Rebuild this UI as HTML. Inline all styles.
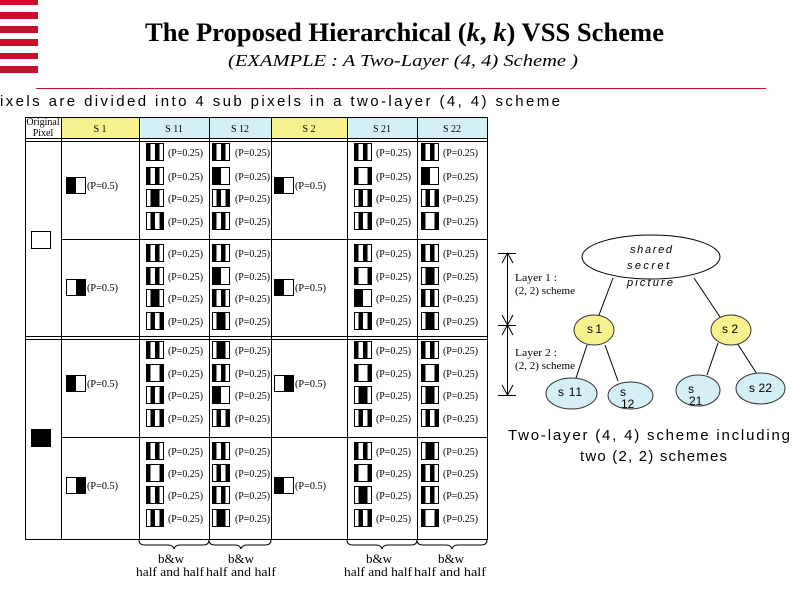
<!DOCTYPE html>
<html><head><meta charset="utf-8"><style>
html,body{margin:0;padding:0;background:#fff;}
svg{display:block;}
.p{font-family:"Liberation Serif",serif;font-size:10px;}
.h{font-family:"Liberation Serif",serif;font-size:10px;}
.s{font-family:"Liberation Sans",sans-serif;}
</style></head><body>
<svg width="800" height="600" viewBox="0 0 800 600" xmlns="http://www.w3.org/2000/svg">
<defs>
<g id="a"><rect x="0.5" y="0.5" width="17" height="17" fill="#fff" stroke="#000"/><rect x="0" y="0" width="4.5" height="18"/><rect x="9" y="0" width="4.5" height="18"/></g>
<g id="b"><rect x="0.5" y="0.5" width="17" height="17" fill="#fff" stroke="#000"/><rect x="0" y="0" width="4.5" height="18"/><rect x="13.5" y="0" width="4.5" height="18"/></g>
<g id="c"><rect x="0.5" y="0.5" width="17" height="17" fill="#fff" stroke="#000"/><rect x="0" y="0" width="9" height="18"/></g>
<g id="d"><rect x="0.5" y="0.5" width="17" height="17" fill="#fff" stroke="#000"/><rect x="4.5" y="0" width="9" height="18"/></g>
<g id="e"><rect x="0.5" y="0.5" width="17" height="17" fill="#fff" stroke="#000"/><rect x="4.5" y="0" width="4.5" height="18"/><rect x="13.5" y="0" width="4.5" height="18"/></g>
<g id="L"><rect x="0.5" y="0.5" width="19" height="16" fill="#fff" stroke="#000"/><rect x="0" y="0" width="10" height="17"/></g>
<g id="R"><rect x="0.5" y="0.5" width="19" height="16" fill="#fff" stroke="#000"/><rect x="10" y="0" width="10" height="17"/></g>
</defs>

<!-- red stripes -->
<g fill="#c8102e">
<rect x="0" y="0" width="38" height="5"/>
<rect x="0" y="12" width="38" height="7"/>
<rect x="0" y="26" width="38" height="7"/>
<rect x="0" y="39" width="38" height="7"/>
<rect x="0" y="53" width="38" height="6"/>
<rect x="0" y="66" width="38" height="7"/>
</g>

<!-- title -->
<text x="145" y="41" font-family="Liberation Serif, serif" font-weight="bold" font-size="26.5" textLength="519" lengthAdjust="spacingAndGlyphs">The Proposed Hierarchical (<tspan font-style="italic">k</tspan>, <tspan font-style="italic">k</tspan>) VSS Scheme</text>
<text x="228" y="66" font-family="Liberation Serif, serif" font-style="italic" font-size="17" textLength="350" lengthAdjust="spacingAndGlyphs">(EXAMPLE : A Two-Layer (4, 4) Scheme )</text>
<rect x="36" y="88" width="730" height="1" fill="#c8102e"/>
<text x="0" y="106" class="s" font-size="15" textLength="560" lengthAdjust="spacing">ixels are divided into 4 sub pixels in a two-layer (4, 4) scheme</text>

<!-- table header backgrounds -->
<rect x="61" y="117" width="78" height="21" fill="#f8f28e"/>
<rect x="139" y="117" width="132" height="21" fill="#d4eff5"/>
<rect x="271" y="117" width="76" height="21" fill="#f8f28e"/>
<rect x="347" y="117" width="140" height="21" fill="#d4eff5"/>

<!-- table lines -->
<g stroke="#000" stroke-width="1" shape-rendering="crispEdges" fill="none">
<line x1="25" y1="117.5" x2="488" y2="117.5"/>
<line x1="25" y1="138.5" x2="488" y2="138.5"/>
<line x1="25" y1="141.5" x2="488" y2="141.5"/>
<line x1="61" y1="239.5" x2="488" y2="239.5"/>
<line x1="25" y1="336.5" x2="488" y2="336.5"/>
<line x1="25" y1="339.5" x2="488" y2="339.5"/>
<line x1="61" y1="437.5" x2="488" y2="437.5"/>
<line x1="25" y1="539.5" x2="488" y2="539.5"/>
<line x1="25.5" y1="117" x2="25.5" y2="540"/>
<line x1="61.5" y1="117" x2="61.5" y2="540"/>
<line x1="139.5" y1="117" x2="139.5" y2="540"/>
<line x1="209.5" y1="117" x2="209.5" y2="540"/>
<line x1="271.5" y1="117" x2="271.5" y2="540"/>
<line x1="347.5" y1="117" x2="347.5" y2="540"/>
<line x1="417.5" y1="117" x2="417.5" y2="540"/>
<line x1="487.5" y1="117" x2="487.5" y2="540"/>
</g>

<!-- header text -->
<text x="43" y="125" class="h" font-size="8.5" text-anchor="middle">Original</text>
<text x="43" y="136" class="h" font-size="8.5" text-anchor="middle">Pixel</text>
<text x="100" y="132" class="h" text-anchor="middle">S 1</text>
<text x="174" y="132" class="h" text-anchor="middle">S 11</text>
<text x="240" y="132" class="h" text-anchor="middle">S 12</text>
<text x="309" y="132" class="h" text-anchor="middle">S 2</text>
<text x="382" y="132" class="h" text-anchor="middle">S 21</text>
<text x="452" y="132" class="h" text-anchor="middle">S 22</text>

<!-- original pixels -->
<rect x="31.5" y="231.5" width="19" height="17" fill="#fff" stroke="#000"/>
<rect x="31" y="429" width="20" height="18" fill="#000"/>

<!-- S1 / S2 -->
<use href="#L" x="66" y="177"/><text x="87" y="189" class="p" textLength="31" lengthAdjust="spacingAndGlyphs">(P=0.5)</text>
<use href="#R" x="66" y="279"/><text x="87" y="291" class="p" textLength="31" lengthAdjust="spacingAndGlyphs">(P=0.5)</text>
<use href="#L" x="66" y="375"/><text x="87" y="387" class="p" textLength="31" lengthAdjust="spacingAndGlyphs">(P=0.5)</text>
<use href="#R" x="66" y="477"/><text x="87" y="489" class="p" textLength="31" lengthAdjust="spacingAndGlyphs">(P=0.5)</text>
<use href="#L" x="274" y="177"/><text x="295" y="189" class="p" textLength="31" lengthAdjust="spacingAndGlyphs">(P=0.5)</text>
<use href="#L" x="274" y="279"/><text x="295" y="291" class="p" textLength="31" lengthAdjust="spacingAndGlyphs">(P=0.5)</text>
<use href="#R" x="274" y="375"/><text x="295" y="387" class="p" textLength="31" lengthAdjust="spacingAndGlyphs">(P=0.5)</text>
<use href="#L" x="274" y="477"/><text x="295" y="489" class="p" textLength="31" lengthAdjust="spacingAndGlyphs">(P=0.5)</text>

<!-- S11 -->
<use href="#a" x="146" y="143"/><text x="168" y="156" class="p" textLength="35" lengthAdjust="spacingAndGlyphs">(P=0.25)</text>
<use href="#a" x="146" y="167"/><text x="168" y="180" class="p" textLength="35" lengthAdjust="spacingAndGlyphs">(P=0.25)</text>
<use href="#d" x="146" y="189"/><text x="168" y="202" class="p" textLength="35" lengthAdjust="spacingAndGlyphs">(P=0.25)</text>
<use href="#e" x="146" y="212"/><text x="168" y="225" class="p" textLength="35" lengthAdjust="spacingAndGlyphs">(P=0.25)</text>
<use href="#a" x="146" y="244"/><text x="168" y="257" class="p" textLength="35" lengthAdjust="spacingAndGlyphs">(P=0.25)</text>
<use href="#a" x="146" y="267"/><text x="168" y="280" class="p" textLength="35" lengthAdjust="spacingAndGlyphs">(P=0.25)</text>
<use href="#d" x="146" y="289"/><text x="168" y="302" class="p" textLength="35" lengthAdjust="spacingAndGlyphs">(P=0.25)</text>
<use href="#e" x="146" y="312"/><text x="168" y="325" class="p" textLength="35" lengthAdjust="spacingAndGlyphs">(P=0.25)</text>
<use href="#a" x="146" y="341"/><text x="168" y="354" class="p" textLength="35" lengthAdjust="spacingAndGlyphs">(P=0.25)</text>
<use href="#b" x="146" y="364"/><text x="168" y="377" class="p" textLength="35" lengthAdjust="spacingAndGlyphs">(P=0.25)</text>
<use href="#e" x="146" y="386"/><text x="168" y="399" class="p" textLength="35" lengthAdjust="spacingAndGlyphs">(P=0.25)</text>
<use href="#e" x="146" y="409"/><text x="168" y="422" class="p" textLength="35" lengthAdjust="spacingAndGlyphs">(P=0.25)</text>
<use href="#a" x="146" y="442"/><text x="168" y="455" class="p" textLength="35" lengthAdjust="spacingAndGlyphs">(P=0.25)</text>
<use href="#b" x="146" y="464"/><text x="168" y="477" class="p" textLength="35" lengthAdjust="spacingAndGlyphs">(P=0.25)</text>
<use href="#a" x="146" y="486"/><text x="168" y="499" class="p" textLength="35" lengthAdjust="spacingAndGlyphs">(P=0.25)</text>
<use href="#e" x="146" y="509"/><text x="168" y="522" class="p" textLength="35" lengthAdjust="spacingAndGlyphs">(P=0.25)</text>

<!-- S12 -->
<use href="#a" x="212" y="143"/><text x="235" y="156" class="p" textLength="35" lengthAdjust="spacingAndGlyphs">(P=0.25)</text>
<use href="#c" x="212" y="167"/><text x="235" y="180" class="p" textLength="35" lengthAdjust="spacingAndGlyphs">(P=0.25)</text>
<use href="#e" x="212" y="189"/><text x="235" y="202" class="p" textLength="35" lengthAdjust="spacingAndGlyphs">(P=0.25)</text>
<use href="#a" x="212" y="212"/><text x="235" y="225" class="p" textLength="35" lengthAdjust="spacingAndGlyphs">(P=0.25)</text>
<use href="#a" x="212" y="244"/><text x="235" y="257" class="p" textLength="35" lengthAdjust="spacingAndGlyphs">(P=0.25)</text>
<use href="#c" x="212" y="267"/><text x="235" y="280" class="p" textLength="35" lengthAdjust="spacingAndGlyphs">(P=0.25)</text>
<use href="#a" x="212" y="289"/><text x="235" y="302" class="p" textLength="35" lengthAdjust="spacingAndGlyphs">(P=0.25)</text>
<use href="#d" x="212" y="312"/><text x="235" y="325" class="p" textLength="35" lengthAdjust="spacingAndGlyphs">(P=0.25)</text>
<use href="#d" x="212" y="341"/><text x="235" y="354" class="p" textLength="35" lengthAdjust="spacingAndGlyphs">(P=0.25)</text>
<use href="#a" x="212" y="364"/><text x="235" y="377" class="p" textLength="35" lengthAdjust="spacingAndGlyphs">(P=0.25)</text>
<use href="#c" x="212" y="386"/><text x="235" y="399" class="p" textLength="35" lengthAdjust="spacingAndGlyphs">(P=0.25)</text>
<use href="#e" x="212" y="409"/><text x="235" y="422" class="p" textLength="35" lengthAdjust="spacingAndGlyphs">(P=0.25)</text>
<use href="#a" x="212" y="442"/><text x="235" y="455" class="p" textLength="35" lengthAdjust="spacingAndGlyphs">(P=0.25)</text>
<use href="#e" x="212" y="464"/><text x="235" y="477" class="p" textLength="35" lengthAdjust="spacingAndGlyphs">(P=0.25)</text>
<use href="#a" x="212" y="486"/><text x="235" y="499" class="p" textLength="35" lengthAdjust="spacingAndGlyphs">(P=0.25)</text>
<use href="#d" x="212" y="509"/><text x="235" y="522" class="p" textLength="35" lengthAdjust="spacingAndGlyphs">(P=0.25)</text>

<!-- S21 -->
<use href="#a" x="354" y="143"/><text x="376" y="156" class="p" textLength="35" lengthAdjust="spacingAndGlyphs">(P=0.25)</text>
<use href="#b" x="354" y="167"/><text x="376" y="180" class="p" textLength="35" lengthAdjust="spacingAndGlyphs">(P=0.25)</text>
<use href="#e" x="354" y="189"/><text x="376" y="202" class="p" textLength="35" lengthAdjust="spacingAndGlyphs">(P=0.25)</text>
<use href="#e" x="354" y="212"/><text x="376" y="225" class="p" textLength="35" lengthAdjust="spacingAndGlyphs">(P=0.25)</text>
<use href="#a" x="354" y="244"/><text x="376" y="257" class="p" textLength="35" lengthAdjust="spacingAndGlyphs">(P=0.25)</text>
<use href="#b" x="354" y="267"/><text x="376" y="280" class="p" textLength="35" lengthAdjust="spacingAndGlyphs">(P=0.25)</text>
<use href="#c" x="354" y="289"/><text x="376" y="302" class="p" textLength="35" lengthAdjust="spacingAndGlyphs">(P=0.25)</text>
<use href="#e" x="354" y="312"/><text x="376" y="325" class="p" textLength="35" lengthAdjust="spacingAndGlyphs">(P=0.25)</text>
<use href="#a" x="354" y="341"/><text x="376" y="354" class="p" textLength="35" lengthAdjust="spacingAndGlyphs">(P=0.25)</text>
<use href="#b" x="354" y="364"/><text x="376" y="377" class="p" textLength="35" lengthAdjust="spacingAndGlyphs">(P=0.25)</text>
<use href="#d" x="354" y="386"/><text x="376" y="399" class="p" textLength="35" lengthAdjust="spacingAndGlyphs">(P=0.25)</text>
<use href="#e" x="354" y="409"/><text x="376" y="422" class="p" textLength="35" lengthAdjust="spacingAndGlyphs">(P=0.25)</text>
<use href="#a" x="354" y="442"/><text x="376" y="455" class="p" textLength="35" lengthAdjust="spacingAndGlyphs">(P=0.25)</text>
<use href="#b" x="354" y="464"/><text x="376" y="477" class="p" textLength="35" lengthAdjust="spacingAndGlyphs">(P=0.25)</text>
<use href="#d" x="354" y="486"/><text x="376" y="499" class="p" textLength="35" lengthAdjust="spacingAndGlyphs">(P=0.25)</text>
<use href="#e" x="354" y="509"/><text x="376" y="522" class="p" textLength="35" lengthAdjust="spacingAndGlyphs">(P=0.25)</text>

<!-- S22 -->
<use href="#a" x="421" y="143"/><text x="443" y="156" class="p" textLength="35" lengthAdjust="spacingAndGlyphs">(P=0.25)</text>
<use href="#c" x="421" y="167"/><text x="443" y="180" class="p" textLength="35" lengthAdjust="spacingAndGlyphs">(P=0.25)</text>
<use href="#e" x="421" y="189"/><text x="443" y="202" class="p" textLength="35" lengthAdjust="spacingAndGlyphs">(P=0.25)</text>
<use href="#b" x="421" y="212"/><text x="443" y="225" class="p" textLength="35" lengthAdjust="spacingAndGlyphs">(P=0.25)</text>
<use href="#a" x="421" y="244"/><text x="443" y="257" class="p" textLength="35" lengthAdjust="spacingAndGlyphs">(P=0.25)</text>
<use href="#d" x="421" y="267"/><text x="443" y="280" class="p" textLength="35" lengthAdjust="spacingAndGlyphs">(P=0.25)</text>
<use href="#a" x="421" y="289"/><text x="443" y="302" class="p" textLength="35" lengthAdjust="spacingAndGlyphs">(P=0.25)</text>
<use href="#d" x="421" y="312"/><text x="443" y="325" class="p" textLength="35" lengthAdjust="spacingAndGlyphs">(P=0.25)</text>
<use href="#a" x="421" y="341"/><text x="443" y="354" class="p" textLength="35" lengthAdjust="spacingAndGlyphs">(P=0.25)</text>
<use href="#b" x="421" y="364"/><text x="443" y="377" class="p" textLength="35" lengthAdjust="spacingAndGlyphs">(P=0.25)</text>
<use href="#d" x="421" y="386"/><text x="443" y="399" class="p" textLength="35" lengthAdjust="spacingAndGlyphs">(P=0.25)</text>
<use href="#e" x="421" y="409"/><text x="443" y="422" class="p" textLength="35" lengthAdjust="spacingAndGlyphs">(P=0.25)</text>
<use href="#d" x="421" y="442"/><text x="443" y="455" class="p" textLength="35" lengthAdjust="spacingAndGlyphs">(P=0.25)</text>
<use href="#a" x="421" y="464"/><text x="443" y="477" class="p" textLength="35" lengthAdjust="spacingAndGlyphs">(P=0.25)</text>
<use href="#a" x="421" y="486"/><text x="443" y="499" class="p" textLength="35" lengthAdjust="spacingAndGlyphs">(P=0.25)</text>
<use href="#b" x="421" y="509"/><text x="443" y="522" class="p" textLength="35" lengthAdjust="spacingAndGlyphs">(P=0.25)</text>

<!-- braces -->
<g fill="none" stroke="#000" stroke-width="1">
<path d="M139,540 Q139,545 145,545 L168,545 Q173,545 174,549 Q175,545 180,545 L203,545 Q209,545 209,540"/>
<path d="M209,540 Q209,545 215,545 L235,545 Q240,545 241,549 Q242,545 247,545 L265,545 Q271,545 271,540"/>
<path d="M347,540 Q347,545 353,545 L376,545 Q381,545 382,549 Q383,545 388,545 L411,545 Q417,545 417,540"/>
<path d="M417,540 Q417,545 423,545 L446,545 Q451,545 452,549 Q453,545 458,545 L481,545 Q487,545 487,540"/>
</g>
<g font-family="Liberation Serif, serif" font-size="13" text-anchor="middle">
<text x="171" y="563">b&amp;w</text>
<text x="170" y="576" textLength="68" lengthAdjust="spacingAndGlyphs">half and half</text>
<text x="241" y="563">b&amp;w</text>
<text x="241" y="576" textLength="70" lengthAdjust="spacingAndGlyphs">half and half</text>
<text x="379" y="563">b&amp;w</text>
<text x="378" y="576" textLength="68" lengthAdjust="spacingAndGlyphs">half and half</text>
<text x="451" y="563">b&amp;w</text>
<text x="450" y="576" textLength="72" lengthAdjust="spacingAndGlyphs">half and half</text>
</g>

<!-- tree -->
<g stroke="#000" stroke-width="1" fill="none">
<line x1="613" y1="278" x2="599" y2="315"/>
<line x1="694" y1="278" x2="720" y2="317"/>
<line x1="587" y1="345" x2="576" y2="378"/>
<line x1="605" y1="345" x2="618" y2="381"/>
<line x1="718" y1="343" x2="707" y2="375"/>
<line x1="737" y1="343" x2="757" y2="374"/>
</g>
<ellipse cx="651" cy="257" rx="69" ry="22" fill="#fff" stroke="#000"/>
<ellipse cx="594" cy="330" rx="20" ry="15" fill="#f8f28e" stroke="#333"/>
<ellipse cx="731" cy="330" rx="20" ry="15" fill="#f8f28e" stroke="#333"/>
<ellipse cx="571.5" cy="393.5" rx="25.5" ry="15.5" fill="#d4eff5" stroke="#333"/>
<ellipse cx="630.5" cy="395.5" rx="22.5" ry="13.5" fill="#d4eff5" stroke="#333"/>
<ellipse cx="698" cy="390.5" rx="22" ry="15.5" fill="#d4eff5" stroke="#333"/>
<ellipse cx="760.5" cy="388.5" rx="24.5" ry="15.5" fill="#d4eff5" stroke="#333"/>

<g class="s" font-size="11" font-style="italic">
<text x="630" y="253" textLength="42" lengthAdjust="spacing">shared</text>
<text x="627" y="269" textLength="42" lengthAdjust="spacing">secret</text>
<text x="627" y="286" textLength="46" lengthAdjust="spacing">picture</text>
</g>
<g class="s" font-size="12">
<text x="587" y="333" textLength="15" lengthAdjust="spacing">s 1</text>
<text x="722" y="333" textLength="16" lengthAdjust="spacing">s 2</text>
<text x="558" y="396" textLength="24" lengthAdjust="spacing">s 11</text>
<text x="620" y="396">s</text>
<text x="621" y="408">12</text>
<text x="688" y="393">s</text>
<text x="689" y="405">21</text>
<text x="749" y="392" textLength="23" lengthAdjust="spacing">s 22</text>
</g>

<!-- layer arrows -->
<g stroke="#000" stroke-width="1" fill="none">
<line x1="507.5" y1="253" x2="507.5" y2="395"/>
<line x1="498" y1="253.5" x2="516" y2="253.5"/>
<line x1="498" y1="325.5" x2="516" y2="325.5"/>
<line x1="498" y1="395.5" x2="516" y2="395.5"/>
<polyline points="502,263 507.5,253 513,263"/>
<polyline points="502,315 507.5,325 513,315"/>
<polyline points="502,335 507.5,325 513,335"/>
<polyline points="502,385 507.5,395 513,385"/>
</g>
<g font-family="Liberation Serif, serif" font-size="11">
<text x="515" y="281" textLength="42" lengthAdjust="spacingAndGlyphs">Layer 1 :</text>
<text x="515" y="294" textLength="60" lengthAdjust="spacingAndGlyphs">(2, 2) scheme</text>
<text x="515" y="356" textLength="42" lengthAdjust="spacingAndGlyphs">Layer 2 :</text>
<text x="515" y="369" textLength="60" lengthAdjust="spacingAndGlyphs">(2, 2) scheme</text>
</g>

<text x="508" y="440" class="s" font-size="15" textLength="282" lengthAdjust="spacing">Two-layer (4, 4) scheme including</text>
<text x="580" y="461" class="s" font-size="15" textLength="147" lengthAdjust="spacing">two (2, 2) schemes</text>
</svg>
</body></html>
